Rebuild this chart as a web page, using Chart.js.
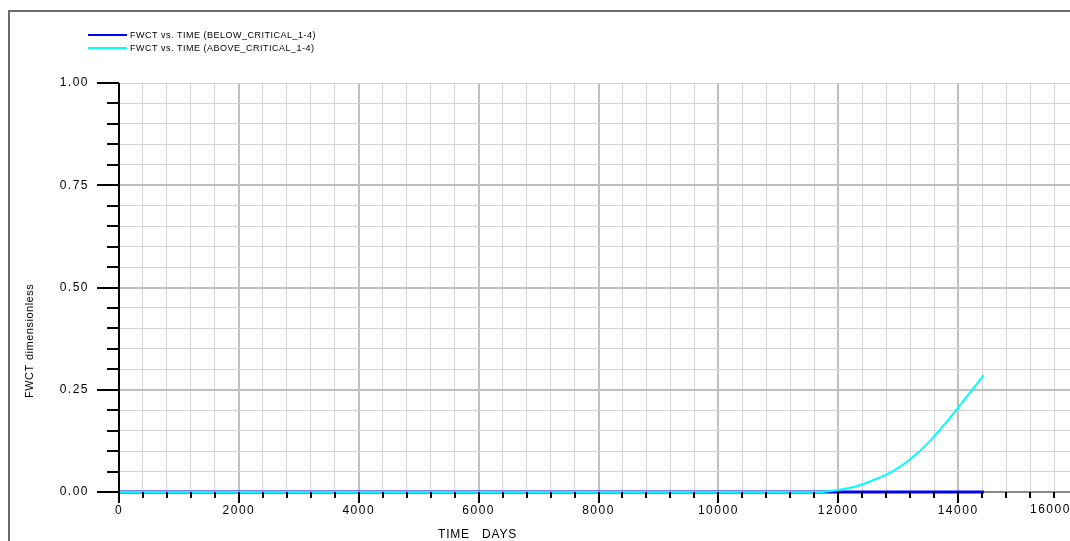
<!DOCTYPE html>
<html>
<head>
<meta charset="utf-8">
<script src="https://cdn.jsdelivr.net/npm/chart.js@4.4.0/dist/chart.umd.min.js"></script>
<style>
  html, body { margin: 0; padding: 0; background: #fff; overflow: hidden; }
  #wrap { width: 1070px; height: 541px; overflow: hidden; position: relative; }
  canvas { position: absolute; left: 0; top: 0; }
</style>
</head>
<body>
<div id="wrap"><canvas id="chart" width="1110" height="541"></canvas></div>
<script>
// Series
const belowDays = [0, 2000, 4000, 6000, 8000, 10000, 12000, 14430];
const belowFwct = [0, 0, 0, 0, 0, 0, 0, 0];

const aboveDays = [0, 2000, 4000, 6000, 8000, 10000, 11700, 12000, 12300, 12600, 12900, 13200, 13500, 13800, 14100, 14430];
const aboveFwct = [0, 0, 0, 0, 0, 0, 0, 0.005, 0.014, 0.03, 0.05, 0.08, 0.12, 0.17, 0.225, 0.286];

const seriesLabels = ['FWCT vs. TIME (BELOW_CRITICAL_1-4)', 'FWCT vs. TIME (ABOVE_CRITICAL_1-4)'];
const seriesColors = ['#0000ff', '#00ffff'];

const xTitle = ['TIME', 'DAYS'];
const yTitle = ['FWCT', 'dimensionless'];

const X_MAX = 16000;
const FONT = '"Liberation Sans", Arial, sans-serif';

/**
 * Zip two arrays into {x, y} points.
 */
function toPoints(xs, ys) {
  return xs.map((x, i) => ({ x: x, y: ys[i] }));
}

function isMajorY(v) {
  return Math.abs(v / 0.25 - Math.round(v / 0.25)) < 1e-6;
}

function isInnerMajorY(v) {
  return isMajorY(v) && v > 0 && v < 1;
}

/**
 * Frame, legend, axis titles and the two-length tick marks.
 */
const decorPlugin = {
  id: 'decor',
  beforeDraw(chart) {
    // wide spacing of the tick labels
    chart.ctx.letterSpacing = '1.5px';
  },
  afterDraw(chart) {
    const ctx = chart.ctx;
    const xs = chart.scales.x;
    const ys = chart.scales.y;
    const area = chart.chartArea;
    ctx.save();

    // last x label is pulled back inside the window, as in the plot package
    ctx.font = '12px ' + FONT;
    ctx.fillStyle = '#000';
    ctx.textAlign = 'left';
    ctx.textBaseline = 'middle';
    ctx.fillText(String(X_MAX), xs.getPixelForValue(X_MAX) - 48, area.bottom + 18);

    ctx.letterSpacing = '0px';

    // outer frame
    ctx.strokeStyle = '#6a6a6a';
    ctx.lineWidth = 2;
    ctx.beginPath();
    ctx.moveTo(9, 541);
    ctx.lineTo(9, 11);
    ctx.lineTo(1110, 11);
    ctx.stroke();

    // y axis line + ticks
    ctx.strokeStyle = '#000';
    ctx.lineWidth = 2;
    ctx.beginPath();
    ctx.moveTo(area.left, area.top);
    ctx.lineTo(area.left, area.bottom + 11);
    ctx.stroke();
    ys.ticks.forEach(t => {
      const y = Math.round(ys.getPixelForValue(t.value));
      ctx.beginPath();
      ctx.moveTo(area.left - (isMajorY(t.value) ? 22 : 12), y);
      ctx.lineTo(area.left, y);
      ctx.stroke();
    });

    // x ticks
    xs.ticks.forEach(t => {
      const x = Math.round(xs.getPixelForValue(t.value));
      const major = t.value % 2000 === 0;
      ctx.beginPath();
      ctx.moveTo(x, area.bottom);
      ctx.lineTo(x, area.bottom + (major ? 11 : 6));
      ctx.stroke();
    });

    // legend
    ctx.font = '9px ' + FONT;
    ctx.letterSpacing = '0.5px';
    ctx.textBaseline = 'middle';
    ctx.textAlign = 'left';
    seriesLabels.forEach((label, i) => {
      const y = 35 + i * 13;
      ctx.strokeStyle = seriesColors[i];
      ctx.lineWidth = 2;
      ctx.beginPath();
      ctx.moveTo(88, y);
      ctx.lineTo(127, y);
      ctx.stroke();
      ctx.fillStyle = '#000';
      ctx.fillText(label, 130, y + 1);
    });

    // axis titles
    ctx.font = '12px ' + FONT;
    ctx.letterSpacing = '0.8px';
    ctx.fillStyle = '#000';
    ctx.textAlign = 'left';
    ctx.fillText(xTitle[0], 438, 535);
    ctx.fillText(xTitle[1], 482, 535);
    ctx.save();
    ctx.translate(30, 0);
    ctx.rotate(-Math.PI / 2);
    ctx.font = '11px ' + FONT;
    ctx.letterSpacing = '0.5px';
    ctx.fillText(yTitle[0], -398, 0);
    ctx.fillText(yTitle[1], -360, 0);
    ctx.restore();

    ctx.restore();
  }
};

new Chart(document.getElementById('chart').getContext('2d'), {
  type: 'line',
  data: {
    datasets: [
      {
        label: seriesLabels[0],
        data: toPoints(belowDays, belowFwct),
        borderColor: seriesColors[0],
        borderWidth: 3,
        pointRadius: 0,
        tension: 0,
        clip: 6,
        order: 2
      },
      {
        label: seriesLabels[1],
        data: toPoints(aboveDays, aboveFwct),
        borderColor: seriesColors[1],
        borderWidth: 2,
        pointRadius: 0,
        cubicInterpolationMode: 'monotone',
        clip: 6,
        order: 1
      }
    ]
  },
  options: {
    responsive: false,
    animation: false,
    devicePixelRatio: 1,
    layout: { padding: { left: 0, top: 83, right: 32, bottom: 0 } },
    plugins: { legend: { display: false }, tooltip: { enabled: false } },
    scales: {
      x: {
        type: 'linear',
        min: 0,
        max: X_MAX,
        afterFit: s => { s.height = 49; },
        border: { display: true, color: '#8a8a8a', width: 2 },
        grid: {
          drawTicks: false,
          color: c => (c.tick && c.tick.value % 2000 === 0) ? '#bfbfbf' : '#d4d4d4',
          lineWidth: c => (c.tick && c.tick.value % 2000 === 0) ? 2 : 1
        },
        ticks: {
          stepSize: 400,
          autoSkip: false,
          maxRotation: 0,
          padding: 11,
          color: '#000',
          font: { family: FONT, size: 12 },
          callback: v => (v % 2000 === 0 && v < X_MAX ? String(v) : '')
        }
      },
      y: {
        min: 0,
        max: 1,
        afterFit: s => { s.width = 119; },
        border: { display: false },
        grid: {
          drawTicks: false,
          color: c => (c.tick && isInnerMajorY(c.tick.value)) ? '#bfbfbf' : '#d4d4d4',
          lineWidth: c => (c.tick && isInnerMajorY(c.tick.value)) ? 2 : 1
        },
        ticks: {
          stepSize: 0.05,
          autoSkip: false,
          padding: 30,
          color: '#000',
          font: { family: FONT, size: 12 },
          callback: v => (isMajorY(v) ? v.toFixed(2) : '')
        }
      }
    }
  },
  plugins: [decorPlugin]
});
</script>
</body>
</html>
